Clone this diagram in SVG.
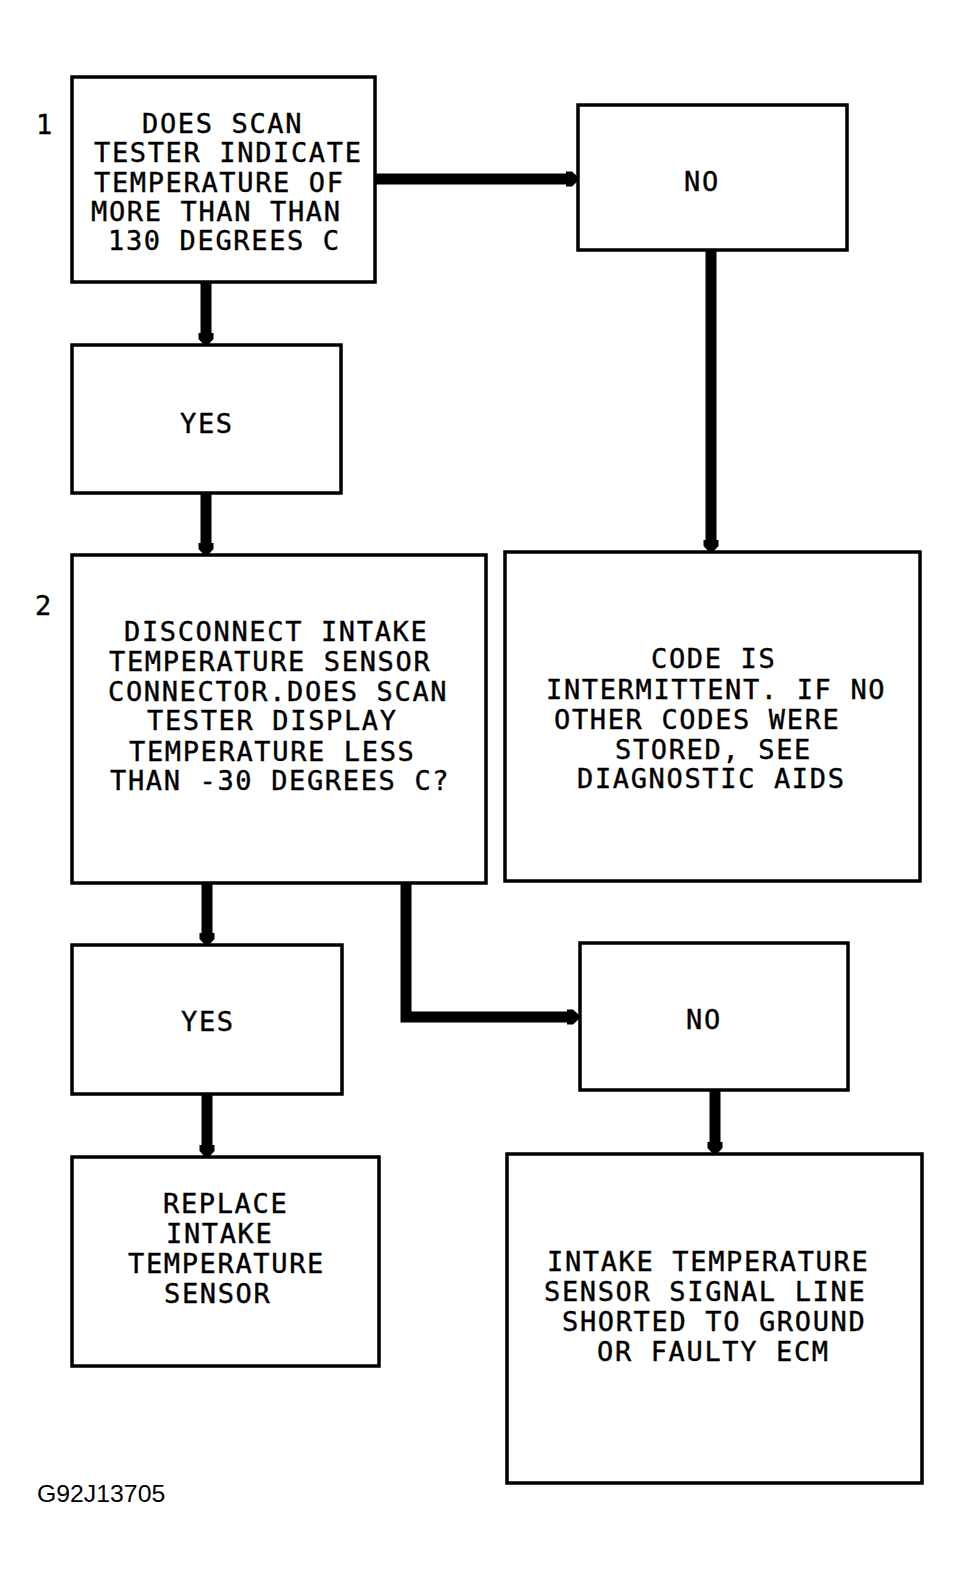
<svg xmlns="http://www.w3.org/2000/svg" width="960" height="1577" viewBox="0 0 960 1577">
<style>
.box{fill:#fff;stroke:#000;stroke-width:3.5}
.t{font-family:"DejaVu Sans Mono","Liberation Mono",monospace;font-size:27px;letter-spacing:1.65px;fill:#000;stroke:#000;stroke-width:0.4}
.c{fill:none;stroke:#000;stroke-width:11;stroke-linejoin:miter}
.f{font-family:"Liberation Sans",Arial,sans-serif;font-size:24.8px;fill:#000}
</style>
<defs>
<marker id="ah" viewBox="-6 -9 16 18" refX="0" refY="0" markerWidth="16" markerHeight="18" markerUnits="userSpaceOnUse" orient="auto">
<path d="M-4,-7.5 L2,-7.5 L8,-2 L8,2 L2,7.5 L-4,7.5 Z" fill="#000"/>
</marker>
</defs>
<rect width="960" height="1577" fill="#fff"/>
<g id="connectors">
<path class="c" d="M375,179 H570" marker-end="url(#ah)"/>
<path class="c" d="M206,282 V337" marker-end="url(#ah)"/>
<path class="c" d="M206,493 V547" marker-end="url(#ah)"/>
<path class="c" d="M711,250 V544" marker-end="url(#ah)"/>
<path class="c" d="M207,883 V937" marker-end="url(#ah)"/>
<path class="c" d="M406,883 V1017 H571" marker-end="url(#ah)"/>
<path class="c" d="M207,1094 V1149" marker-end="url(#ah)"/>
<path class="c" d="M715,1090 V1146" marker-end="url(#ah)"/>
</g>
<g id="step1">
<text class="t" x="36" y="134">1</text>
</g>
<g id="step2">
<text class="t" x="35" y="615">2</text>
</g>
<g id="q1">
<rect class="box" x="72" y="77" width="303" height="205"/>
<text class="t" x="142" y="133">DOES SCAN</text>
<text class="t" x="94" y="162">TESTER INDICATE</text>
<text class="t" x="94" y="192">TEMPERATURE OF</text>
<text class="t" x="91" y="221">MORE THAN THAN</text>
<text class="t" x="108" y="250">130 DEGREES C</text>
</g>
<g id="no1">
<rect class="box" x="578" y="105" width="269" height="145"/>
<text class="t" x="684" y="191">NO</text>
</g>
<g id="yes1">
<rect class="box" x="72" y="345" width="269" height="148"/>
<text class="t" x="180" y="433">YES</text>
</g>
<g id="q2">
<rect class="box" x="72" y="555" width="414" height="328"/>
<text class="t" x="124" y="641">DISCONNECT INTAKE</text>
<text class="t" x="109" y="671">TEMPERATURE SENSOR</text>
<text class="t" x="108" y="701">CONNECTOR.DOES SCAN</text>
<text class="t" x="147" y="730">TESTER DISPLAY</text>
<text class="t" x="129" y="761">TEMPERATURE LESS</text>
<text class="t" x="110" y="790">THAN -30 DEGREES C?</text>
</g>
<g id="intermittent">
<rect class="box" x="505" y="552" width="415" height="329"/>
<text class="t" x="651" y="668">CODE IS</text>
<text class="t" x="546" y="699">INTERMITTENT. IF NO</text>
<text class="t" x="554" y="729">OTHER CODES WERE</text>
<text class="t" x="615" y="759">STORED, SEE</text>
<text class="t" x="577" y="788">DIAGNOSTIC AIDS</text>
</g>
<g id="yes2">
<rect class="box" x="72" y="945" width="270" height="149"/>
<text class="t" x="181" y="1031">YES</text>
</g>
<g id="no2">
<rect class="box" x="580" y="943" width="268" height="147"/>
<text class="t" x="686" y="1029">NO</text>
</g>
<g id="replace">
<rect class="box" x="72" y="1157" width="307" height="209"/>
<text class="t" x="163" y="1213">REPLACE</text>
<text class="t" x="166" y="1243">INTAKE</text>
<text class="t" x="128" y="1273">TEMPERATURE</text>
<text class="t" x="164" y="1303">SENSOR</text>
</g>
<g id="shorted">
<rect class="box" x="507" y="1154" width="415" height="329"/>
<text class="t" x="547" y="1271">INTAKE TEMPERATURE</text>
<text class="t" x="544" y="1301">SENSOR SIGNAL LINE</text>
<text class="t" x="562" y="1331">SHORTED TO GROUND</text>
<text class="t" x="597" y="1361">OR FAULTY ECM</text>
</g>
<text class="f" x="37" y="1502">G92J13705</text>
</svg>
